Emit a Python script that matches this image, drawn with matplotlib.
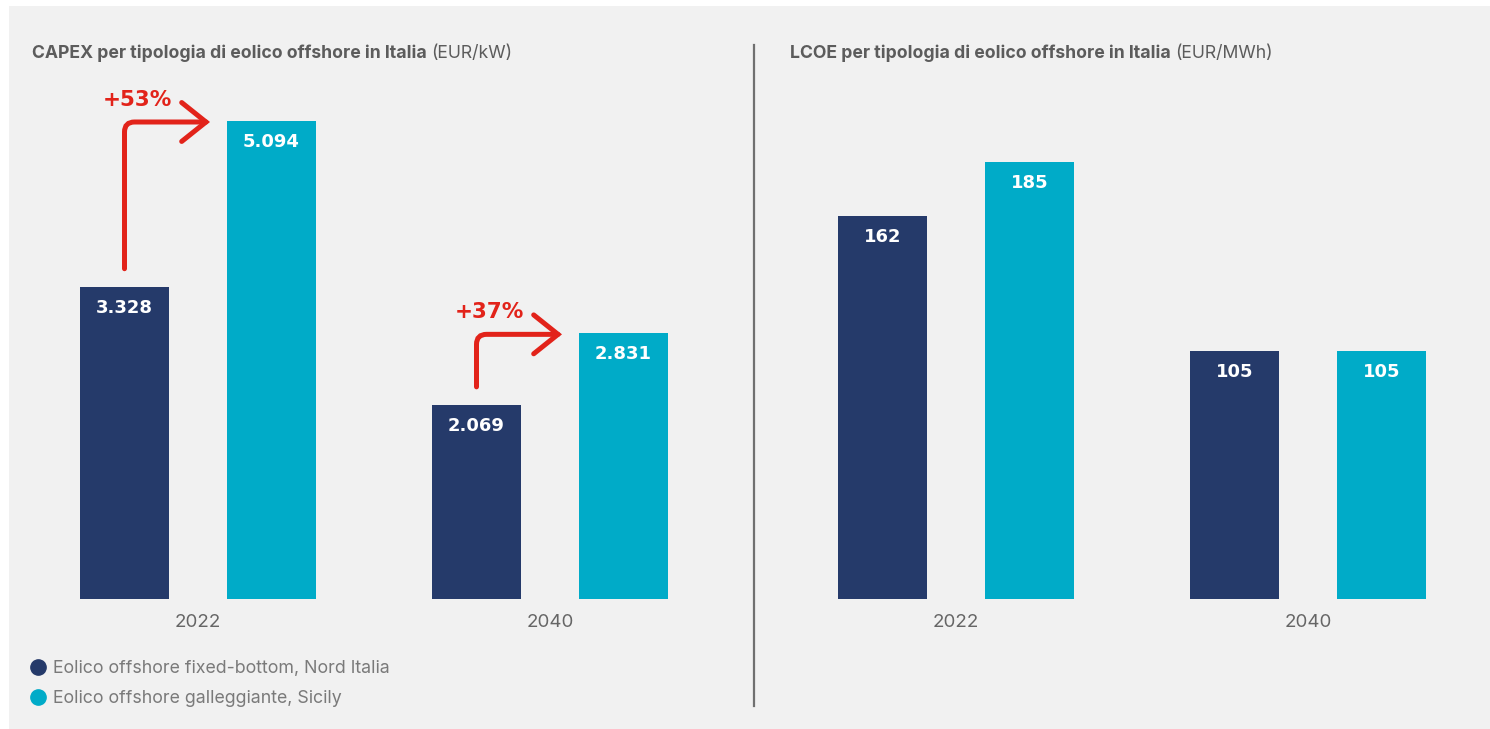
import matplotlib

matplotlib.use("Agg")
import matplotlib.pyplot as plt
from matplotlib.lines import Line2D
from matplotlib.patches import FancyArrowPatch, Rectangle
from matplotlib.transforms import IdentityTransform

years = ["2022", "2040"]
series_labels = ["Eolico offshore fixed-bottom, Nord Italia", "Eolico offshore galleggiante, Sicily"]
capex_fixed = [3328, 2069]
capex_floating = [5094, 2831]
lcoe_fixed = [162, 105]
lcoe_floating = [185, 105]

W, H = 1490, 729
BG = "#f1f1f1"
NAVY = "#253a6a"
CYAN = "#00abc8"
RED = "#e2231a"
TITLE_GREY = "#5c5c5c"
TICK_GREY = "#666666"
LEGEND_GREY = "#7a7a7a"

GROUP_PX = 352.0          # distance between the two year groups
OFFSET = 73.5 / GROUP_PX  # bar centre offset from group centre
WIDTH = 89 / GROUP_PX
BASE_Y = 599              # baseline, pixels from top
TOP_Y = 80

plt.rcParams["font.family"] = ["Inter", "DejaVu Sans"]

fig = plt.figure(figsize=(W / 100, H / 100), dpi=100, facecolor="white")
fig.patches.append(Rectangle((9 / W, 0), 1, 1 - 6 / H, transform=fig.transFigure,
                             facecolor=BG, edgecolor="none", zorder=-10))


def fmt_it(v):
    return f"{v:,}".replace(",", ".")


def make_axes(left_px, right_px, group0_px, ymax):
    ax = fig.add_axes([left_px / W, (H - BASE_Y) / H, (right_px - left_px) / W, (BASE_Y - TOP_Y) / H])
    ax.set_facecolor("none")
    ax.set_xlim((left_px - group0_px) / GROUP_PX, (right_px - group0_px) / GROUP_PX)
    ax.set_ylim(0, ymax)
    for s in ax.spines.values():
        s.set_visible(False)
    ax.set_yticks([])
    ax.set_xticks(range(len(years)), years)
    ax.tick_params(axis="x", length=0, pad=11, labelsize=13.5, labelcolor=TICK_GREY)
    return ax


def draw_bars(ax, fixed, floating):
    xs = range(len(years))
    b1 = ax.bar([x - OFFSET for x in xs], fixed, WIDTH, color=NAVY)
    b2 = ax.bar([x + OFFSET for x in xs], floating, WIDTH, color=CYAN)
    for bars, vals in ((b1, fixed), (b2, floating)):
        for rect, v in zip(bars, vals):
            ax.annotate(fmt_it(v), (rect.get_x() + rect.get_width() / 2, v),
                        xytext=(0, -12), textcoords="offset pixels", ha="center", va="top",
                        color="white", fontsize=13, fontweight="heavy", family="DejaVu Sans")


def growth_arrow(ax, i, lo, hi):
    x0, y0 = ax.transData.transform((i - OFFSET, lo))
    x1, y1 = ax.transData.transform((i + OFFSET - WIDTH / 2, hi))
    arrow = FancyArrowPatch((x0, y0 + 18), (x1 - 17, y1 - 1), transform=IdentityTransform(),
                            arrowstyle="->,head_length=1.75,head_width=1.4", mutation_scale=10,
                            connectionstyle="angle,angleA=90,angleB=0,rad=10",
                            color=RED, lw=3.6, shrinkA=0, shrinkB=0, capstyle="round",
                            joinstyle="miter")
    fig.add_artist(arrow)
    pct = round((hi / lo - 1) * 100)
    fig.text((x0 + 13) / W, (y1 + 21) / H, f"+{pct}%", ha="center", va="center",
             color=RED, fontsize=15.5, fontweight="bold", family="DejaVu Sans")


def title(x_px, bold, unit):
    t = fig.text(x_px / W, 1 - 53 / H, bold, ha="left", va="center", fontsize=12.7,
                 fontweight="bold", color=TITLE_GREY)
    r = fig.canvas.get_renderer()
    bb = t.get_window_extent(r)
    fig.text((bb.x1 + 4) / W, 1 - 53 / H, unit, ha="left", va="center", fontsize=12.7,
             color=TITLE_GREY)


ax_capex = make_axes(30, 740, 198, (BASE_Y - TOP_Y) / (478 / 5094))
draw_bars(ax_capex, capex_fixed, capex_floating)
for i in range(len(years)):
    growth_arrow(ax_capex, i, capex_fixed[i], capex_floating[i])

ax_lcoe = make_axes(770, 1480, 956, (BASE_Y - TOP_Y) / (437 / 185))
draw_bars(ax_lcoe, lcoe_fixed, lcoe_floating)

title(32, "CAPEX per tipologia di eolico offshore in Italia", "(EUR/kW)")
title(790, "LCOE per tipologia di eolico offshore in Italia", "(EUR/MWh)")

# vertical divider between the two panels
fig.add_artist(Line2D([754 / W, 754 / W], [1 - 45 / H, 1 - 706 / H], transform=fig.transFigure,
                      color="#707070", lw=1.6))

handles = [Line2D([], [], ls="", marker="o", markersize=11, color=c) for c in (NAVY, CYAN)]
fig.legend(handles, series_labels, loc="upper left", bbox_to_anchor=(31 / W, 1 - 660 / H),
           frameon=False, fontsize=12.8, labelcolor=LEGEND_GREY, handlelength=0.8,
           handletextpad=0.45, labelspacing=0.74, borderpad=0, borderaxespad=0)

fig.savefig("out.png", dpi=100, facecolor=fig.get_facecolor())
plt.close(fig)
